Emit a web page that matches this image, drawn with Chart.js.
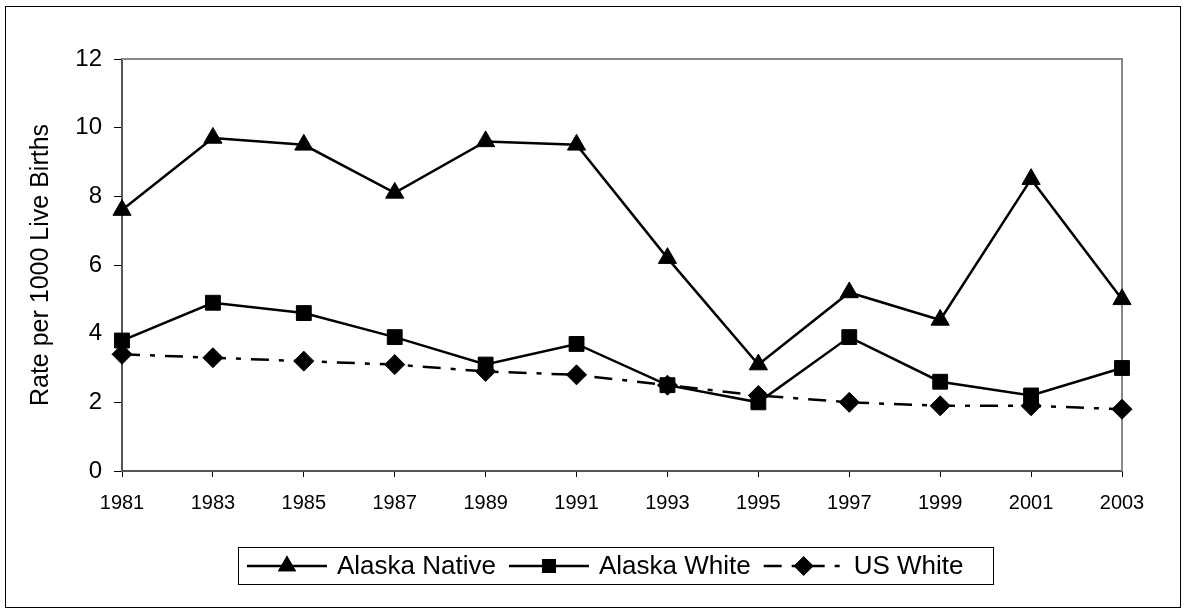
<!DOCTYPE html>
<html>
<head>
<meta charset="utf-8">
<script src="https://cdn.jsdelivr.net/npm/chart.js@4/dist/chart.umd.min.js"></script>
<style>
  html, body { margin: 0; padding: 0; background: #fff; }
  #wrap { width: 1187px; height: 608px; position: relative; }
</style>
</head>
<body>
<div id="wrap"><canvas id="mortChart" width="1187" height="608"></canvas></div>
<script>
// Rates per 1000 live births, odd years 1981-2003
const years = ['1981', '1983', '1985', '1987', '1989', '1991', '1993', '1995', '1997', '1999', '2001', '2003'];
const alaskaNative = [7.6, 9.7, 9.5, 8.1, 9.6, 9.5, 6.2, 3.1, 5.2, 4.4, 8.5, 5.0];
const alaskaWhite = [3.8, 4.9, 4.6, 3.9, 3.1, 3.7, 2.5, 2.0, 3.9, 2.6, 2.2, 3.0];
const usWhite = [3.4, 3.3, 3.2, 3.1, 2.9, 2.8, 2.5, 2.2, 2.0, 1.9, 1.9, 1.8];
const yTickValues = [0, 2, 4, 6, 8, 10, 12];

const FONT = 'Arial, "Liberation Sans", sans-serif';

// outer frame + gray top/right edges of the plot area
const framePlugin = {
  id: 'frame',
  beforeDatasetsDraw(chart) {
    const ctx = chart.ctx;
    const a = chart.chartArea;
    ctx.save();
    ctx.strokeStyle = '#888';
    ctx.lineWidth = 2;
    ctx.beginPath();
    ctx.moveTo(a.left, a.top);
    ctx.lineTo(a.right, a.top);
    ctx.lineTo(a.right, a.bottom);
    ctx.stroke();
    ctx.restore();
  },
  afterDraw(chart) {
    const ctx = chart.ctx;
    ctx.save();
    ctx.strokeStyle = '#000';
    ctx.lineWidth = 1;
    ctx.strokeRect(5.5, 6.5, 1175, 601);
    ctx.restore();
  }
};

// boxed legend under the axis, line sample with marker then label
const boxLegend = {
  id: 'boxLegend',
  afterDraw(chart) {
    const ctx = chart.ctx;
    const box = { x: 238.5, y: 547.5, w: 755, h: 37 };
    const cy = box.y + box.h / 2;
    ctx.save();
    ctx.strokeStyle = '#000';
    ctx.lineWidth = 1;
    ctx.strokeRect(box.x, box.y, box.w, box.h);
    ctx.font = '26px ' + FONT;
    ctx.textBaseline = 'middle';
    ctx.fillStyle = '#000';
    let x = 247;
    chart.data.datasets.forEach(ds => {
      const sw = 80;
      ctx.strokeStyle = '#000';
      ctx.lineWidth = 2.5;
      ctx.setLineDash(ds.borderDash || []);
      ctx.beginPath();
      ctx.moveTo(x, cy);
      ctx.lineTo(x + sw, cy);
      ctx.stroke();
      ctx.setLineDash([]);
      if (Chart.helpers && Chart.helpers.drawPoint) {
        ctx.fillStyle = '#000';
        Chart.helpers.drawPoint(ctx, {
          pointStyle: ds.pointStyle,
          radius: ds.pointStyle === 'rect' ? 8 : 8,
          rotation: 0,
          borderWidth: 1
        }, x + sw / 2, cy);
        ctx.fill();
        ctx.stroke();
      }
      ctx.fillStyle = '#000';
      ctx.fillText(ds.label, x + sw + 10, cy + 1);
      x += sw + 10 + ctx.measureText(ds.label).width + 13;
    });
    ctx.restore();
  }
};

const common = {
  borderColor: '#000',
  backgroundColor: '#000',
  pointBackgroundColor: '#000',
  pointBorderColor: '#000',
  borderWidth: 2.5,
  pointBorderWidth: 1,
  tension: 0,
  clip: false
};

new Chart(document.getElementById('mortChart'), {
  type: 'line',
  data: {
    labels: years,
    datasets: [
      Object.assign({ label: 'Alaska Native', data: alaskaNative, pointStyle: 'triangle', pointRadius: 10.5 }, common),
      Object.assign({ label: 'Alaska White', data: alaskaWhite, pointStyle: 'rect', pointRadius: 10.5 }, common),
      Object.assign({ label: 'US White', data: usWhite, pointStyle: 'rectRot', pointRadius: 10, borderDash: [18, 10, 5, 10] }, common)
    ]
  },
  options: {
    responsive: false,
    animation: false,
    events: [],
    layout: { padding: { top: 59, right: 65, bottom: 0, left: 0 } },
    plugins: {
      legend: { display: false },
      tooltip: { enabled: false }
    },
    scales: {
      x: {
        offset: false,
        afterFit: s => { s.height = 137; },
        grid: { display: true, drawOnChartArea: false, tickLength: 6, color: '#000', offset: false },
        border: { display: true, color: '#555', width: 2 },
        ticks: { color: '#000', font: { family: FONT, size: 20 }, padding: 14, maxRotation: 0, autoSkip: false }
      },
      y: {
        min: 0,
        max: 12,
        afterFit: s => { s.width = 122; },
        afterBuildTicks: s => { s.ticks = yTickValues.map(v => ({ value: v })); },
        grid: { display: true, drawOnChartArea: false, tickLength: 8, color: '#000' },
        border: { display: true, color: '#555', width: 2 },
        ticks: { color: '#000', font: { family: FONT, size: 24 }, padding: 12 },
        title: {
          display: true,
          text: 'Rate per 1000 Live Births',
          color: '#000',
          font: { family: FONT, size: 25 },
          padding: { top: 26, bottom: 0 }
        }
      }
    }
  },
  plugins: [framePlugin, boxLegend]
});
</script>
</body>
</html>
